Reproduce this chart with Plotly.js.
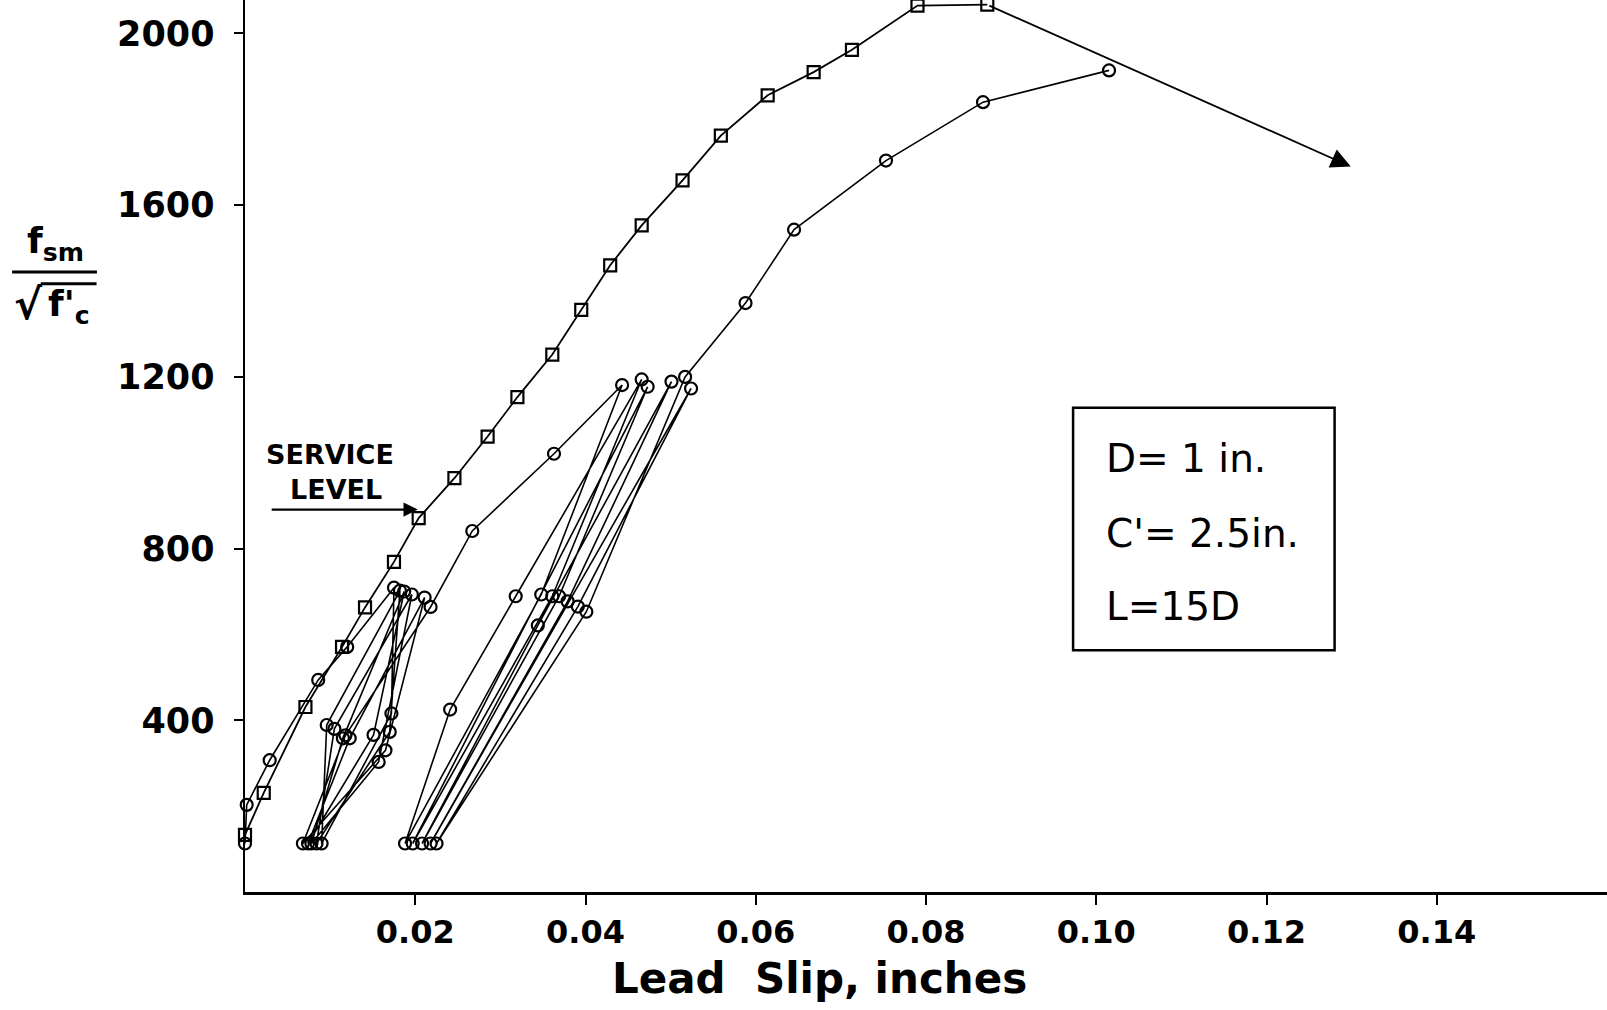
<!DOCTYPE html>
<html>
<head>
<meta charset="utf-8">
<script src="https://cdn.plot.ly/plotly-3.0.1.min.js"></script>
<style>html,body{margin:0;padding:0;background:#fff;}#chart{width:1607px;height:1010px;}</style>
</head>
<body>
<div id="chart"></div>
<script>
// Monotonic loading curve (squares)
const squareSlip = [0, 0.0022, 0.0071, 0.0114, 0.0141, 0.0175, 0.0204, 0.0246, 0.0285, 0.0320, 0.0361, 0.0395, 0.0429, 0.0466, 0.0514, 0.0559, 0.0614, 0.0668, 0.0713, 0.0790, 0.0872];
const squareStress = [133, 231, 431, 571, 663, 769, 871, 964, 1061, 1153, 1252, 1356, 1460, 1553, 1658, 1762, 1856, 1910, 1962, 2065, 2067];

// Cyclic loading curve (circles)
const circleSlip = [
  0, 0.0002, 0.0029, 0.0086, 0.0120, 0.0175,
  0.0172, 0.0090, 0.0096, 0.0182,
  0.0170, 0.0084, 0.0105, 0.0196,
  0.0157, 0.0078, 0.0115, 0.0187,
  0.0151, 0.0074, 0.0123, 0.0211,
  0.0165, 0.0068, 0.0118, 0.0218,
  0.0267, 0.0363, 0.0443,
  0.0348, 0.0188, 0.0241, 0.0318, 0.0466,
  0.0361, 0.0197, 0.0473,
  0.0369, 0.0208, 0.0344, 0.0501,
  0.0379, 0.0218, 0.0524,
  0.0391, 0.0225, 0.0401, 0.0517,
  0.0588, 0.0645, 0.0753, 0.0867, 0.1015
];
const circleStress = [
  113, 203, 307, 494, 571, 709,
  416, 113, 389, 702,
  373, 113, 380, 693,
  303, 113, 358, 700,
  366, 113, 358, 686,
  330, 113, 365, 664,
  841, 1021, 1181,
  693, 113, 425, 689, 1194,
  689, 113, 1177,
  689, 113, 621, 1189,
  677, 113, 1173,
  665, 113, 653, 1200,
  1372, 1543, 1704, 1840, 1914
];

// Arrow continuing the monotonic curve
const arrowTipSlip = 0.1299;
const arrowTipStress = 1690;

// Axis ticks
const xTickVals = [0.02, 0.04, 0.06, 0.08, 0.10, 0.12, 0.14];
const xTickText = ["0.02", "0.04", "0.06", "0.08", "0.10", "0.12", "0.14"];
const yTickVals = [400, 800, 1200, 1600, 2000];
const yTickText = ["400", "800", "1200", "1600", "2000"];

// Service level marker
const serviceSlip = 0.0203;
const serviceTailSlip = 0.0029;
const serviceStress = 891;

const FONT = "DejaVu Sans, sans-serif";

const traces = [
  {
    x: squareSlip, y: squareStress, type: "scatter", mode: "lines+markers",
    line: {color: "#000", width: 1.8},
    marker: {symbol: "square-open", size: 12, color: "#000", line: {width: 2.2, color: "#000"}},
    cliponaxis: false, hoverinfo: "skip", showlegend: false
  },
  {
    x: circleSlip, y: circleStress, type: "scatter", mode: "lines+markers",
    line: {color: "#000", width: 1.6},
    marker: {symbol: "circle-open", size: 12, color: "#000", line: {width: 2.2, color: "#000"}},
    cliponaxis: false, hoverinfo: "skip", showlegend: false
  }
];

const lastIdx = squareSlip.length - 1;

const layout = {
  width: 1607, height: 1010,
  margin: {l: 245, r: 0, t: 0, b: 118},
  paper_bgcolor: "#fff", plot_bgcolor: "#fff",
  font: {family: FONT, color: "#000"},
  showlegend: false,
  xaxis: {
    range: [0, 0.16], showgrid: false, zeroline: false,
    showline: true, linecolor: "#000", linewidth: 2.5,
    ticks: "outside", ticklen: 10, tickwidth: 2, tickcolor: "#000",
    tickvals: xTickVals, ticktext: xTickText,
    tickfont: {family: FONT, size: 32, color: "#000", weight: "bold"},
    ticklabelstandoff: 0
  },
  yaxis: {
    range: [0, 2078], showgrid: false, zeroline: false,
    showline: true, linecolor: "#000", linewidth: 2.5,
    ticks: "outside", ticklen: 9, tickwidth: 2, tickcolor: "#000",
    tickvals: yTickVals, ticktext: yTickText,
    tickfont: {family: FONT, size: 35, color: "#000", weight: "bold"},
    ticklabelstandoff: 12
  },
  shapes: [
    {type: "line", xref: "paper", yref: "paper", x0: -0.171, x1: -0.1087, y0: 0.695, y1: 0.695, line: {color: "#000", width: 3}},
    {type: "line", xref: "paper", yref: "paper", x0: -0.150, x1: -0.109, y0: 0.682, y1: 0.682, line: {color: "#000", width: 3}},
    {type: "rect", xref: "paper", yref: "paper", x0: 0.608, x1: 0.800, y0: 0.271, y1: 0.543, line: {color: "#000", width: 2.5}, fillcolor: "rgba(0,0,0,0)"}
  ],
  annotations: [
    {xref: "paper", yref: "paper", x: -0.1388, y: 0.727, text: "f<sub>sm</sub>", showarrow: false, xanchor: "center", yanchor: "middle",
     font: {family: FONT, size: 36, color: "#000", weight: "bold"}},
    {xref: "paper", yref: "paper", x: -0.147, y: 0.659, text: "√", showarrow: false, xanchor: "right", yanchor: "middle",
     font: {family: FONT, size: 42, color: "#000", weight: "bold"}},
    {xref: "paper", yref: "paper", x: -0.146, y: 0.656, text: "f'<sub>c</sub>", showarrow: false, xanchor: "left", yanchor: "middle",
     font: {family: FONT, size: 36, color: "#000", weight: "bold"}},
    {xref: "paper", yref: "paper", x: 0.422, y: -0.0975, text: "Lead  Slip, inches", showarrow: false, xanchor: "center", yanchor: "middle",
     font: {family: FONT, size: 42, color: "#000", weight: "bold"}},
    {xref: "paper", yref: "paper", x: 0.0624, y: 0.491, text: "SERVICE", showarrow: false, xanchor: "center", yanchor: "middle",
     font: {family: FONT, size: 27, color: "#000", weight: "bold"}},
    {xref: "paper", yref: "paper", x: 0.0668, y: 0.451, text: "LEVEL", showarrow: false, xanchor: "center", yanchor: "middle",
     font: {family: FONT, size: 27, color: "#000", weight: "bold"}},
    {x: serviceSlip, y: serviceStress, ax: serviceTailSlip, ay: serviceStress, axref: "x", ayref: "y", xref: "x", yref: "y",
     text: "&nbsp;", font: {size: 2}, showarrow: true, arrowhead: 2, arrowsize: 1.3, arrowwidth: 2.2, arrowcolor: "#000"},
    {x: arrowTipSlip, y: arrowTipStress, ax: squareSlip[lastIdx], ay: squareStress[lastIdx], axref: "x", ayref: "y", xref: "x", yref: "y",
     text: "&nbsp;", font: {size: 2}, showarrow: true, arrowhead: 2, arrowsize: 2.2, arrowwidth: 1.8, arrowcolor: "#000"},
    {xref: "paper", yref: "paper", x: 0.631, y: 0.486, text: "D= 1 in.", showarrow: false, xanchor: "left", yanchor: "middle",
     font: {family: FONT, size: 39, color: "#000"}},
    {xref: "paper", yref: "paper", x: 0.631, y: 0.402, text: "C'= 2.5in.", showarrow: false, xanchor: "left", yanchor: "middle",
     font: {family: FONT, size: 39, color: "#000"}},
    {xref: "paper", yref: "paper", x: 0.631, y: 0.320, text: "L=15D", showarrow: false, xanchor: "left", yanchor: "middle",
     font: {family: FONT, size: 39, color: "#000"}}
  ]
};

Plotly.newPlot("chart", traces, layout, {staticPlot: true, displayModeBar: false});
</script>
</body>
</html>
